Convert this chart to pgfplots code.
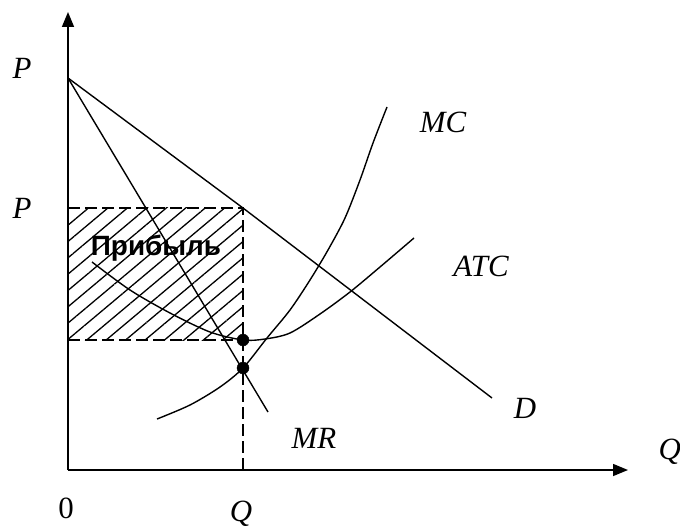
\documentclass[border=0pt]{standalone}
\usepackage{pgfplots}
\pgfplotsset{compat=1.18}
\usepackage{fontspec}
\setmainfont{Liberation Serif}
\newfontfamily\sansb{Liberation Sans}
\usetikzlibrary{arrows.meta,patterns.meta}
\tikzset{lbl/.style={font=\fontsize{31}{36}\selectfont\itshape},
  crv/.style={black, line width=1.4bp, mark=none}}
\begin{document}
\begin{tikzpicture}
\begin{axis}[
  width=680bp, height=527bp, scale only axis,
  xmin=-68, xmax=612, ymin=-57, ymax=470,
  hide axis, clip=false,
]
% hatched profit region
\addplot[draw=none, mark=none, pattern={Lines[angle=40, distance=12.5bp, line width=1.3bp]}]
  coordinates {(0,130) (175,130) (175,262) (0,262)} -- cycle;
% dashed guides
\addplot[crv, dash pattern=on 12bp off 5bp] coordinates {(0,262) (175,262) (175,0)};
\addplot[crv, dash pattern=on 12bp off 5bp] coordinates {(0,130) (175,130)};
% axes
\draw[line width=1.5bp, -{Triangle[length=15bp,width=12bp]}] (axis cs:0,0) -- (axis cs:560,0);
\draw[line width=1.5bp, -{Triangle[length=15bp,width=12bp]}] (axis cs:0,0) -- (axis cs:0,458);
% D
\addplot[crv] coordinates {(0,392) (175,262) (424,72)};
% MR
\addplot[crv] coordinates {(0,392) (200,58)};
% ATC
\addplot[crv, smooth] coordinates {(24,208) (62,180) (102,157) (142,138) (175,130) (197,131) (222,137) (252,156) (282,178) (312,203) (346,232)};
% MC
\addplot[crv, smooth] coordinates {(89,51) (122,65) (152,83) (175,102) (199,132) (222,160) (242,190) (260,220) (277,252) (292,290) (305,327) (319,363)};
% points
\addplot[black, only marks, mark=*, mark size=6bp] coordinates {(175,130) (175,102)};
% labels
\node[lbl] at (axis cs:-46,402) {P};
\node[lbl] at (axis cs:-46,262) {P};
\node[lbl] at (axis cs:375,348) {MC};
\node[lbl] at (axis cs:413,204) {ATC};
\node[lbl] at (axis cs:457,62) {D};
\node[lbl] at (axis cs:246,32) {MR};
\node[lbl, anchor=west] at (axis cs:587,18) {Q};
\node[font=\fontsize{31}{36}\selectfont, inner sep=0pt] at (axis cs:-2,-38) {0};
\node[lbl, anchor=base, inner sep=0pt] at (axis cs:173,-51) {Q};
\node[font=\sansb\bfseries\fontsize{28}{32}\selectfont] at (axis cs:88,222) {Прибыль};
\end{axis}
\pgfresetboundingbox
\useasboundingbox (current axis.south west) rectangle (current axis.north east);
\end{tikzpicture}
\end{document}
